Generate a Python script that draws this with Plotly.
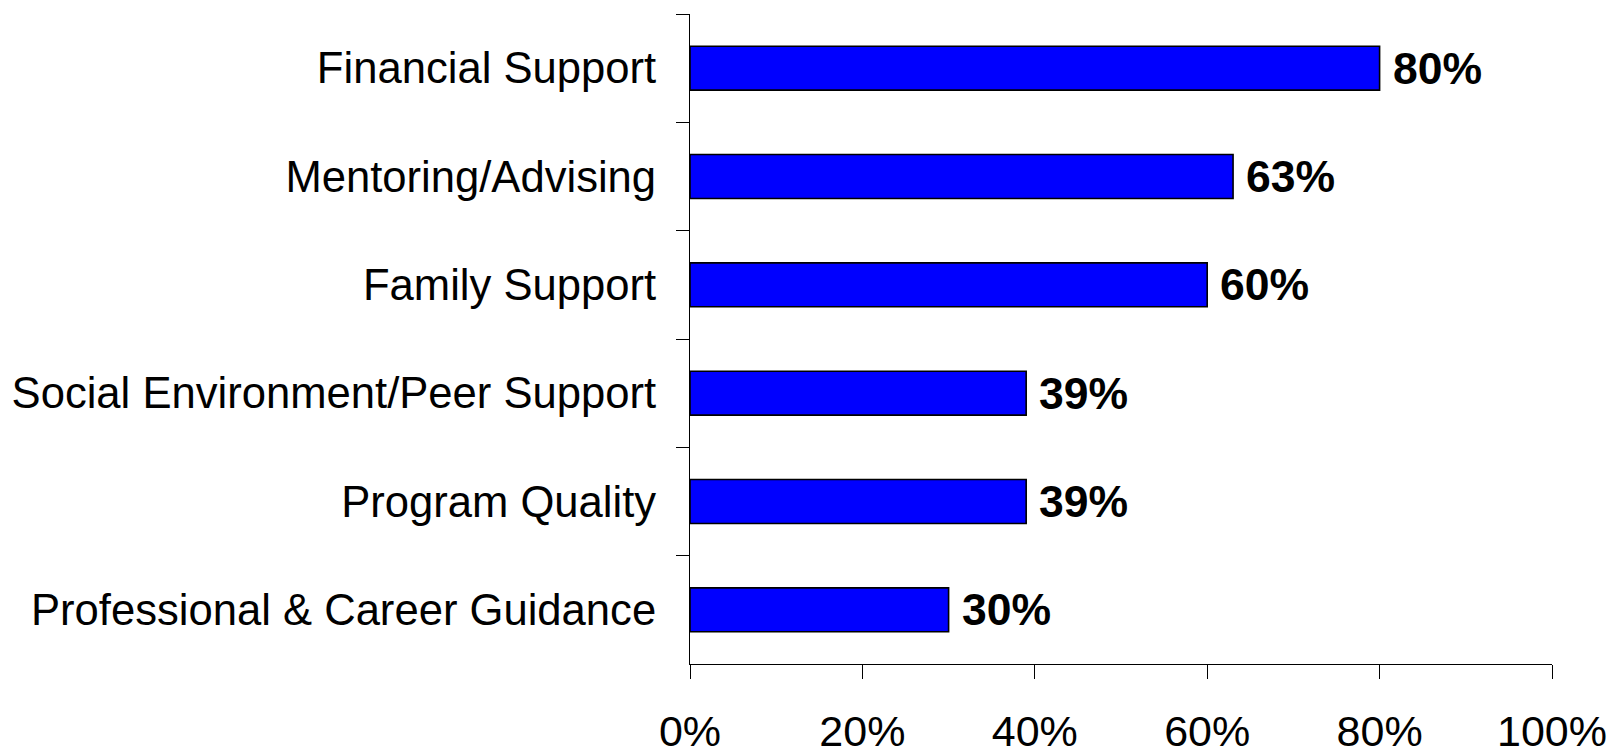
import plotly.graph_objects as go

categories = ["Financial Support", "Mentoring/Advising", "Family Support",
              "Social Environment/Peer Support", "Program Quality",
              "Professional & Career Guidance"]
values = [0.80, 0.63, 0.60, 0.39, 0.39, 0.30]
value_labels = ["80%", "63%", "60%", "39%", "39%", "30%"]
tick_vals = [0, 0.2, 0.4, 0.6, 0.8, 1.0]
tick_text = ["0%", "20%", "40%", "60%", "80%", "100%"]

FONT = "Liberation Sans, Arial, sans-serif"

fig = go.Figure()
fig.add_trace(go.Bar(
    x=values, y=categories, orientation="h",
    marker=dict(color="#0000FF", line=dict(color="#000000", width=1.6)),
    hoverinfo="skip",
))

for v, c, t in zip(values, categories, value_labels):
    fig.add_annotation(x=v, y=c, text="<b>%s</b>" % t, showarrow=False,
                       xanchor="left", yanchor="middle", xshift=11,
                       font=dict(family=FONT, size=44.5, color="#000000"))

fig.update_layout(
    width=1614, height=746,
    margin=dict(l=690, r=62, t=14, b=82, autoexpand=False),
    paper_bgcolor="white", plot_bgcolor="white",
    bargap=0.595,
    showlegend=False,
    font=dict(family=FONT, size=43.6, color="#000000"),
)
fig.update_xaxes(
    range=[0, 1], tickvals=tick_vals, ticktext=tick_text,
    showgrid=False, zeroline=False,
    showline=True, linecolor="#000000", linewidth=1.3,
    ticks="outside", ticklen=14, tickwidth=1.3, tickcolor="#000000",
    tickfont=dict(family=FONT, size=43, color="#000000"),
    ticklabelstandoff=15,
    automargin=False,
)
fig.update_yaxes(
    categoryorder="array", categoryarray=categories, autorange="reversed",
    showgrid=False, zeroline=False,
    showline=True, linecolor="#000000", linewidth=1.3,
    ticks="outside", tickson="boundaries", ticklen=13, tickwidth=1.3,
    tickcolor="#000000",
    tickfont=dict(family=FONT, size=43.6, color="#000000"),
    ticklabelstandoff=24,
    automargin=False,
)

fig.write_html(
    "out.html",
    config={"displayModeBar": False},
    post_script="document.body.style.margin='0';document.body.style.overflow='hidden';",
)
